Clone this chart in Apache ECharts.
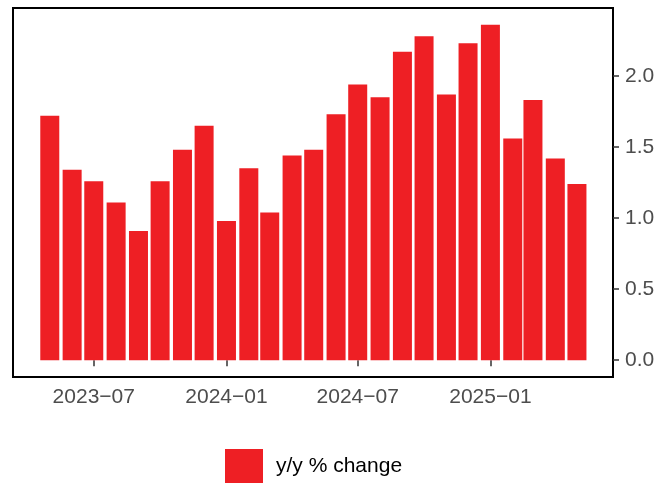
<!DOCTYPE html>
<html>
<head>
<meta charset="utf-8">
<script src="https://cdn.jsdelivr.net/npm/echarts@6/dist/echarts.min.js"></script>
<style>html,body{margin:0;padding:0;background:#fff;}#c{width:668px;height:483px;}</style>
</head>
<body>
<div id="c"></div>
<script>
const months = ['2023-05','2023-06','2023-07','2023-08','2023-09','2023-10','2023-11','2023-12',
  '2024-01','2024-02','2024-03','2024-04','2024-05','2024-06','2024-07','2024-08','2024-09','2024-10','2024-11','2024-12',
  '2025-01','2025-02','2025-03','2025-04','2025-05'];
const yoyChange = [1.72,1.34,1.26,1.11,0.91,1.26,1.48,1.65,
  0.98,1.35,1.04,1.44,1.48,1.73,1.94,1.85,2.17,2.28,1.87,2.23,
  2.36,1.56,1.83,1.42,1.24];
const xTickMonths = ['2023-07','2024-01','2024-07','2025-01'];
const yTicks = [0, 0.5, 1.0, 1.5, 2.0];
const seriesName = 'y/y % change';

function ts(m){ const p = m.split('-'); return new Date(+p[0], +p[1]-1, 1).getTime(); }
const DAY = 86400000;
const xMin = ts('2023-05') - 51*DAY;
const xMax = ts('2025-05') + 50*DAY;

const chart = echarts.init(document.getElementById('c'), null, {renderer:'canvas'});
const font = '"Liberation Sans", Arial, Helvetica, sans-serif';
chart.setOption({
  animation:false,
  backgroundColor:'#fff',
  grid:{left:13, right:55, top:8, bottom:106, show:true, borderColor:'#000', borderWidth:2, backgroundColor:'transparent', containLabel:false},
  legend:{
    data:[seriesName], icon:'rect', itemWidth:38, itemHeight:34, left:225, top:449, padding:0,
    textStyle:{fontFamily:font, fontSize:21, color:'#000', padding:[4,0,0,8]}
  },
  xAxis:{
    type:'value', min:xMin, max:xMax, scale:true,
    axisLine:{show:false},
    splitLine:{show:false},
    axisTick:{show:true, customValues:xTickMonths.map(ts), length:6, lineStyle:{color:'#333', width:1.5}},
    axisLabel:{customValues:xTickMonths.map(ts), margin:10, fontFamily:font, fontSize:21, color:'#4d4d4d',
      formatter:function(v){ const d=new Date(v); const mm=d.getMonth()+1; return d.getFullYear()+'\u2212'+(mm<10?'0'+mm:mm); }}
  },
  yAxis:{
    type:'value', position:'right', min:-0.118, max:2.478,
    axisLine:{show:false},
    splitLine:{show:false},
    axisTick:{show:true, customValues:yTicks, length:6, lineStyle:{color:'#333', width:1.5}},
    axisLabel:{customValues:yTicks, margin:12, fontFamily:font, fontSize:21, color:'#4d4d4d',
      formatter:function(v){ return (+v).toFixed(1); }}
  },
  series:[{
    name:seriesName, type:'bar', barWidth:19,
    itemStyle:{color:'#EE1F24'},
    data:months.map((m,i)=>[ts(m), yoyChange[i]])
  }]
});
</script>
</body>
</html>
